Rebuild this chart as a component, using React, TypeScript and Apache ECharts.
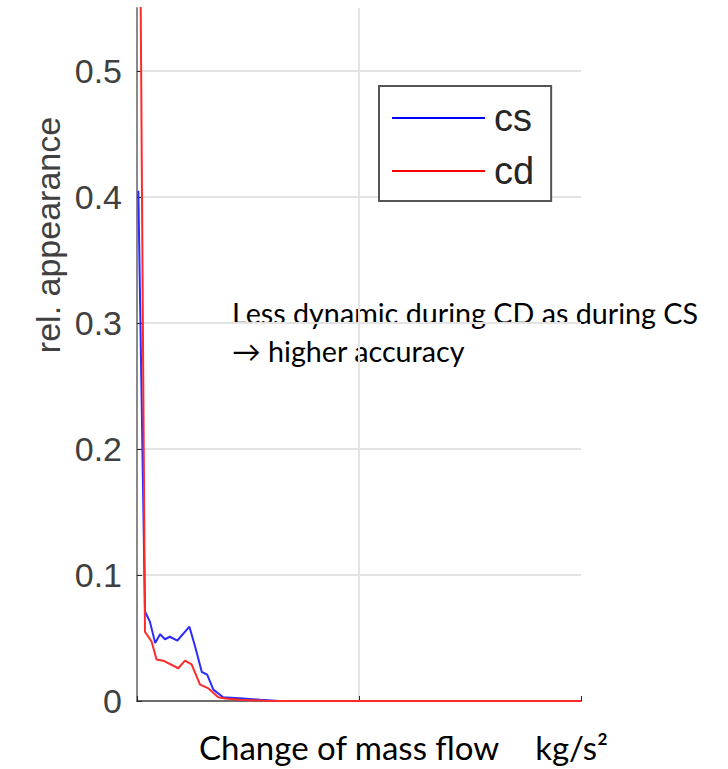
import React, { useEffect, useRef } from "react";
import * as echarts from "echarts";

const csX = [0.3, 1.8, 2.9, 4.1, 5.2, 6.3, 7.4, 9.1, 11.8, 13.1, 14.6, 15.8, 17.2, 19.4, 23.9, 27.7, 32, 100];
const csY = [0.405, 0.071, 0.063, 0.046, 0.053, 0.049, 0.051, 0.048, 0.059, 0.043, 0.023, 0.021, 0.009, 0.003, 0.002, 0.001, 0, 0];
const cdX = [0.7, 1.8, 3.3, 4.4, 5.9, 9.3, 10.8, 12.3, 14.2, 16.1, 18.3, 19.8, 23.2, 30, 100];
const cdY = [0.62, 0.055, 0.047, 0.033, 0.032, 0.026, 0.032, 0.029, 0.013, 0.01, 0.003, 0.002, 0.001, 0, 0];
const seriesNames = ["cs", "cd"];
const yTitle = "rel. appearance";
const xTitleMain = "Change of mass flow   ";
const xTitleUnit = "kg/s²";
const note1 = "Less dynamic during CD as during CS";
const note2 = "→ higher accuracy";

export default function App() {
  const ref = useRef<HTMLDivElement>(null);
  useEffect(() => {
    const chart = echarts.init(ref.current!, null, { renderer: "svg" });
    const pair = (xs: number[], ys: number[]) => xs.map((x, i) => [x, ys[i]]);
    chart.setOption({
      animation: false,
      backgroundColor: "#ffffff",
      grid: { left: 137, right: 147, top: 8, bottom: 68 },
      xAxis: {
        type: "value",
        min: 0,
        max: 100,
        interval: 50,
        axisLine: { show: true, onZero: false, lineStyle: { color: "#6e6e6e", width: 2 } },
        axisTick: { show: true, inside: true, length: 5, lineStyle: { color: "#262626" } },
        axisLabel: { show: false },
        splitLine: { show: true, showMinLine: false, showMaxLine: false, lineStyle: { color: "#e3e3e3", width: 2 } },
      },
      yAxis: {
        type: "value",
        min: 0,
        max: 0.55,
        interval: 0.1,
        axisLine: { show: true, lineStyle: { color: "#8a8a8a", width: 2 } },
        axisTick: { show: true, inside: true, length: 5, lineStyle: { color: "#262626" } },
        axisLabel: {
          showMaxLabel: false,
          margin: 15,
          fontFamily: "Liberation Sans",
          fontSize: 34,
          color: "#404040",
          formatter: (v: number) => (v === 0 ? "0" : v.toFixed(1)),
        },
        splitLine: { show: true, showMaxLine: false, lineStyle: { color: "#e3e3e3", width: 2 } },
      },
      legend: {
        orient: "vertical",
        left: 379,
        top: 86,
        data: seriesNames,
        icon: "rect",
        itemWidth: 93,
        itemHeight: 2,
        itemGap: 15,
        padding: [13, 17, 11, 13],
        borderColor: "#555555",
        borderWidth: 2,
        backgroundColor: "#ffffff",
        textStyle: { fontFamily: "Liberation Sans", fontSize: 38, color: "#262626", lineHeight: 38, padding: [0, 0, 0, 4] },
      },
      series: [
        {
          name: seriesNames[0],
          type: "line",
          data: pair(csX, csY),
          showSymbol: false,
          lineStyle: { color: "#2b2bff", width: 2 },
          itemStyle: { color: "#0000ff" },
          clip: true,
        },
        {
          name: seriesNames[1],
          type: "line",
          data: pair(cdX, cdY),
          showSymbol: false,
          lineStyle: { color: "#ff2b2b", width: 2 },
          itemStyle: { color: "#ff0000" },
          clip: true,
        },
      ],
      graphic: [
        {
          type: "text",
          x: 48,
          y: 235,
          rotation: Math.PI / 2,
          style: {
            text: yTitle,
            fontFamily: "Liberation Sans",
            fontSize: 34,
            fill: "#404040",
            align: "center",
            verticalAlign: "middle",
          },
        },
        {
          type: "text",
          x: 232,
          y: 327,
          style: {
            text: note1,
            fontFamily: "Lato",
            fontSize: 28.7,
            fill: "#000000",
            align: "left",
            verticalAlign: "bottom",
          },
        },
        {
          type: "text",
          x: 232,
          y: 365,
          style: {
            text: note2,
            fontFamily: "Lato",
            fontSize: 28.7,
            fill: "#000000",
            align: "left",
            verticalAlign: "bottom",
          },
        },
        {
          type: "text",
          x: 199,
          y: 763,
          style: {
            text: "{a|" + xTitleMain + "}{b|" + xTitleUnit + "}",
            align: "left",
            verticalAlign: "bottom",
            rich: {
              a: { fontFamily: "Lato", fontSize: 33, fill: "#000000" },
              b: { fontFamily: "Lato", fontSize: 33, fill: "#000000", padding: [0, 0, 0, 10] },
            },
          },
        },
      ],
    });
    return () => chart.dispose();
  }, []);
  return <div ref={ref} style={{ width: 728, height: 769, position: "absolute", left: 0, top: 0 }} />;
}
